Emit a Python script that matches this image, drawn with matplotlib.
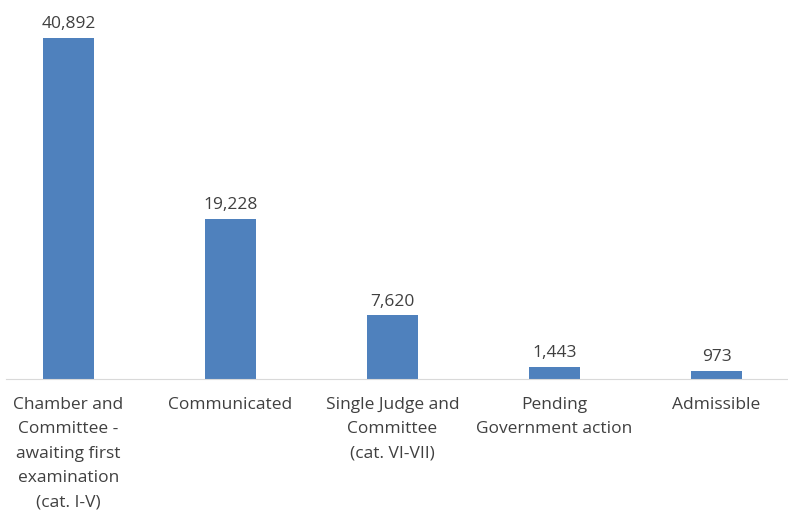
import matplotlib
matplotlib.use("Agg")
import matplotlib.pyplot as plt

categories = ["Chamber and\nCommittee -\nawaiting first\nexamination\n(cat. I-V)",
              "Communicated",
              "Single Judge and\nCommittee\n(cat. VI-VII)",
              "Pending\nGovernment action",
              "Admissible"]
values = [40892, 19228, 7620, 1443, 973]
value_labels = ["40,892", "19,228", "7,620", "1,443", "973"]

plt.rcParams['font.family'] = ['Open Sans', 'DejaVu Sans']

fig = plt.figure(figsize=(7.88, 5.14), dpi=100)
ax = fig.add_axes([6 / 788, (514 - 379) / 514, 782 / 788, 379 / 514])

x = range(len(values))
ax.bar(x, values, width=0.315, color="#4F81BD")
ax.set_xlim(-0.386, 4.441)
ax.set_ylim(0, 40892 * 379 / 341)

for xi, v, lab in zip(x, values, value_labels):
    ax.annotate(lab, (xi, v), xytext=(0, 4), textcoords="offset points",
                ha="center", va="bottom", fontsize=12.5, color="#404040")

ax.set_xticks(list(x))
ax.set_xticklabels(categories, fontsize=12.5, color="#404040", linespacing=1.7, va="top")
ax.tick_params(axis="x", length=0, pad=13)
ax.set_yticks([])
for s in ["top", "left", "right"]:
    ax.spines[s].set_visible(False)
ax.spines["bottom"].set_color("#D9D9D9")

fig.savefig("out.png", dpi=100)
